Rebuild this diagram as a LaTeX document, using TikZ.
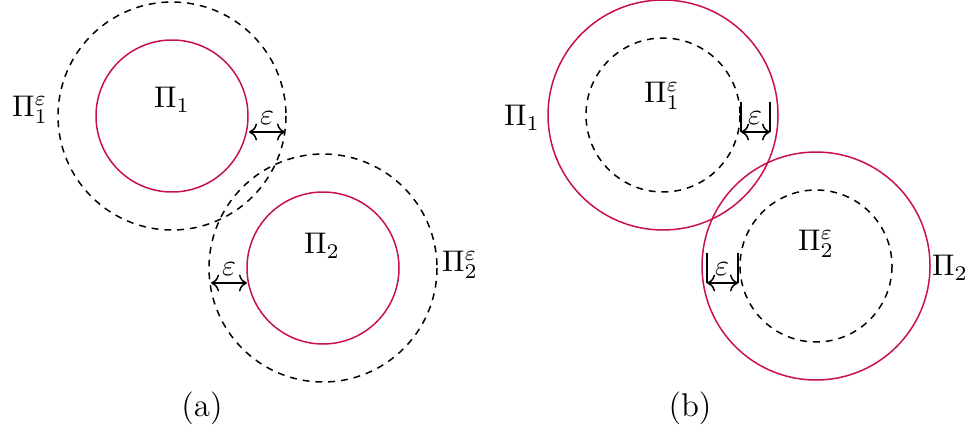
\documentclass[tikz,border=0pt]{standalone}
\usepackage{amsmath,amssymb}
\usepackage{tikz}
\usetikzlibrary{calc,positioning,arrows.meta}

\definecolor{piRed}{RGB}{200,16,80}

\begin{document}
\begin{tikzpicture}[
    x=0.01176cm, y=-0.01176cm,
    set_circle/.style={piRed, line width=0.5pt},
    fat_circle/.style={black, dash pattern=on 2.3pt off 2pt, line width=0.5pt},
    eps_arrow/.style={<->, line width=0.5pt},
    eps_bar/.style={line width=0.5pt},
    lbl/.style={inner sep=1pt},
    caption/.style={font=\fontsize{11}{13}\selectfont}
]
    \useasboundingbox (0,0) rectangle (969,431);

    % (a): sets and their eps-neighbourhoods
    \draw[set_circle] (172,116) circle (76);
    \draw[fat_circle] (172,116) circle (114);
    \draw[set_circle] (323,268) circle (76);
    \draw[fat_circle] (323,268) circle (114);

    \node[lbl] (a1) at (172,100) {$\Pi_1$};
    \node[lbl] (a1e) at (30,110) {$\Pi_1^{\varepsilon}$};
    \node[lbl] (a2) at (322,246) {$\Pi_2$};
    \node[lbl] (a2e) at (460,265) {$\Pi_2^{\varepsilon}$};

    % eps arrows (a)
    \coordinate (p1) at (249,132);
    \coordinate (q1) at (285,132);
    \draw[eps_arrow] (p1) -- (q1);
    \node[lbl] (e1) at (267,118) {$\varepsilon$};
    \coordinate (p2) at (211,283);
    \coordinate (q2) at (247,283);
    \draw[eps_arrow] (p2) -- (q2);
    \node[lbl] (e2) at (229,269) {$\varepsilon$};

    \node[caption] (cap_a) at (202,408) {(a)};

    % (b): sets and their eps-interiors
    \draw[set_circle] (663,115) circle (115);
    \draw[fat_circle] (663,115) circle (77);
    \draw[set_circle] (816,266) circle (114);
    \draw[fat_circle] (816,266) circle (76);

    \node[lbl] (b1) at (522,118) {$\Pi_1$};
    \node[lbl] (b1e) at (662,96) {$\Pi_1^{\varepsilon}$};
    \node[lbl] (b2e) at (816,244) {$\Pi_2^{\varepsilon}$};
    \node[lbl] (b2) at (950,268) {$\Pi_2$};

    % eps arrows (b), with bars
    \coordinate (r1) at (741,132);
    \coordinate (s1) at (770,132);
    \draw[eps_bar] (r1) -- ++(0,-30);
    \draw[eps_bar] (s1) -- ++(0,-30);
    \draw[eps_arrow] (r1) -- (s1);
    \node[lbl] (f1) at (755,118) {$\varepsilon$};
    \coordinate (r2) at (707,283);
    \coordinate (s2) at (738,283);
    \draw[eps_bar] (r2) -- ++(0,-30);
    \draw[eps_bar] (s2) -- ++(0,-30);
    \draw[eps_arrow] (r2) -- (s2);
    \node[lbl] (f2) at (722,269) {$\varepsilon$};

    \node[caption] (cap_b) at (690,408) {(b)};
\end{tikzpicture}
\end{document}
